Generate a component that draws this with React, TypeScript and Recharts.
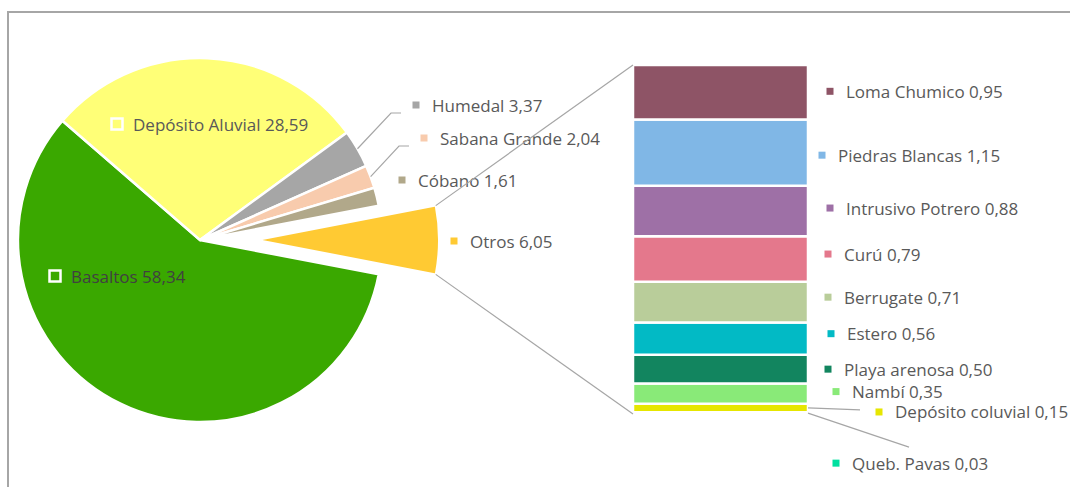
import React from 'react';
import { PieChart, Pie, Cell, BarChart, Bar, XAxis, YAxis, LabelList } from 'recharts';

// ---------- data ----------
const PIE_NAMES = ['Otros', 'Basaltos', 'Depósito Aluvial', 'Humedal', 'Sabana Grande', 'Cóbano'];
const PIE_VALUES = [6.05, 58.34, 28.59, 3.37, 2.04, 1.61];
const PIE_COLORS = ['#ffca33', '#3aa800', '#ffff77', '#a6a6a6', '#f8cbad', '#b1a88a'];

const BAR_NAMES = [
  'Loma Chumico', 'Piedras Blancas', 'Intrusivo Potrero', 'Curú', 'Berrugate',
  'Estero', 'Playa arenosa', 'Nambí', 'Depósito coluvial', 'Queb. Pavas',
];
const BAR_VALUES = [0.95, 1.15, 0.88, 0.79, 0.71, 0.56, 0.5, 0.35, 0.15, 0.03];
const BAR_COLORS = [
  '#8e5466', '#80b7e6', '#9e70a6', '#e4788c', '#b9cd9a',
  '#02bac5', '#12855f', '#89ea78', '#e6e600', '#00e0a0',
];

// ---------- layout / style ----------
const W = 1070;
const H = 487;
const FONT = '"Open Sans", Lato, sans-serif';
const FONT_SIZE = 17;
const TEXT = '#595959';
const LINE = '#a6a6a6';

const PIE_CX = 200;
const PIE_CY = 240;
const PIE_R = 182;
const EXPLODE = 57;

const BAR_MARGIN = { top: 65, bottom: 73, left: 633, right: 262 };

// label marker placement relative to pie center (Excel's manual label layout)
const PIE_LABEL_POS = [
  { dx: 254, dy: 1, inside: false, leader: false },
  { dx: -145, dy: 36, inside: true, leader: false },
  { dx: -83, dy: -116, inside: true, leader: false },
  { dx: 216, dy: -135, inside: false, leader: true },
  { dx: 224, dy: -102, inside: false, leader: true },
  { dx: 202, dy: -60, inside: false, leader: false },
];

// label marker placement relative to right edge / middle of each bar segment
const BAR_LABEL_POS = [
  { dx: 22, dy: -1 },
  { dx: 14, dy: 2.5 },
  { dx: 22, dy: -3 },
  { dx: 20, dy: -5 },
  { dx: 20, dy: -5 },
  { dx: 23, dy: -5 },
  { dx: 20, dy: 0 },
  { dx: 28, dy: -2 },
  { dx: 71, dy: 4, leader: { dx: -19, dy: -2 } },
  { dx: 28, dy: 50, leader: { dx: 73, dy: -16 } },
];

const fmt = (v: number) => v.toFixed(2).replace('.', ',');
const sum = (a: number[]) => a.reduce((s, v) => s + v, 0);
const RAD = Math.PI / 180;

const pieTotal = sum(PIE_VALUES);
const START_ANGLE = (PIE_VALUES[0] / pieTotal) * 180;
const pieData = PIE_NAMES.map((name, i) => ({ name, value: PIE_VALUES[i] }));

const barTotal = sum(BAR_VALUES);
const barRow: Record<string, any> = { name: 'Otros' };
BAR_NAMES.forEach((n, i) => {
  barRow['s' + i] = BAR_VALUES[i];
});
const barData = [barRow];

// exploded "Otros" slice corners (for connector lines)
const otrosMid = 0;
const otrosCx = PIE_CX + EXPLODE * Math.cos(otrosMid * RAD);
const otrosCy = PIE_CY - EXPLODE * Math.sin(otrosMid * RAD);
const otrosTop = {
  x: otrosCx + PIE_R * Math.cos(START_ANGLE * RAD),
  y: otrosCy - PIE_R * Math.sin(START_ANGLE * RAD),
};
const otrosBottom = {
  x: otrosCx + PIE_R * Math.cos(-START_ANGLE * RAD),
  y: otrosCy - PIE_R * Math.sin(-START_ANGLE * RAD),
};

const renderPieLabel = (p: any) => {
  const i = p.index;
  const pos = PIE_LABEL_POS[i];
  const cx = Number(p.cx);
  const cy = Number(p.cy);
  const mx = cx + pos.dx;
  const my = cy + pos.dy;
  const color = PIE_COLORS[i];
  const mid = p.midAngle;
  const r = Number(p.outerRadius);
  return (
    <g key={'pl' + i}>
      {pos.leader && (
        <polyline
          points={`${cx + r * Math.cos(mid * RAD)},${cy - r * Math.sin(mid * RAD)} ${mx - 25},${my + 8} ${mx - 15},${my + 8}`}
          fill="none"
          stroke={LINE}
          strokeWidth={1.2}
        />
      )}
      {pos.inside ? (
        <rect x={mx - 5.5} y={my - 5.5} width={11} height={11} fill={color} stroke="#fff" strokeWidth={2.5} />
      ) : (
        <rect x={mx - 3.5} y={my - 3.5} width={7} height={7} fill={color} />
      )}
      <text
        x={mx + 16}
        y={my}
        dominantBaseline="central"
        fontFamily={FONT}
        fontSize={FONT_SIZE}
        fill={i === 1 ? '#404040' : TEXT}
      >
        {`${PIE_NAMES[i]} ${fmt(PIE_VALUES[i])}`}
      </text>
    </g>
  );
};

const makeBarLabel = (i: number) => (props: any) => {
  const vb = props.viewBox && props.viewBox.width != null ? props.viewBox : props;
  const x = Number(vb.x);
  const y = Number(vb.y);
  const w = Number(vb.width);
  const h = Number(vb.height);
  const pos = BAR_LABEL_POS[i];
  const right = x + w;
  const midY = y + h / 2;
  const mx = right + pos.dx;
  const my = midY + pos.dy;
  return (
    <g>
      {i === 0 && (
        <line x1={otrosTop.x} y1={otrosTop.y} x2={x} y2={y} stroke={LINE} strokeWidth={1.2} />
      )}
      {i === BAR_NAMES.length - 1 && (
        <line x1={otrosBottom.x} y1={otrosBottom.y} x2={x} y2={y + h} stroke={LINE} strokeWidth={1.2} />
      )}
      {pos.leader && (
        <line
          x1={right}
          y1={midY}
          x2={mx + pos.leader.dx}
          y2={my + pos.leader.dy}
          stroke={LINE}
          strokeWidth={1.2}
        />
      )}
      <rect x={mx - 3.5} y={my - 3.5} width={7} height={7} fill={BAR_COLORS[i]} />
      <text x={mx + 16} y={my} dominantBaseline="central" fontFamily={FONT} fontSize={FONT_SIZE} fill={TEXT}>
        {`${BAR_NAMES[i]} ${fmt(BAR_VALUES[i])}`}
      </text>
    </g>
  );
};

export default function App() {
  const order = BAR_NAMES.map((_, i) => BAR_NAMES.length - 1 - i); // bottom -> top
  return (
    <div
      style={{
        position: 'absolute',
        left: 0,
        top: 0,
        width: W,
        height: H,
        overflow: 'hidden',
        background: '#fff',
        fontFamily: FONT,
      }}
    >
      <div
        style={{
          position: 'absolute',
          left: 7,
          top: 11,
          width: 1200,
          height: 600,
          border: `2px solid ${LINE}`,
          boxSizing: 'border-box',
        }}
      />
      <div style={{ position: 'absolute', left: 0, top: 0 }}>
        <PieChart width={W} height={H} margin={{ top: 0, right: 0, bottom: 0, left: 0 }}>
          <Pie
            data={pieData}
            dataKey="value"
            nameKey="name"
            cx={PIE_CX}
            cy={PIE_CY}
            outerRadius={PIE_R}
            startAngle={START_ANGLE}
            endAngle={START_ANGLE - 360}
            isAnimationActive={false}
            label={renderPieLabel}
            labelLine={false}
          >
            {pieData.map((d, i) => (
              <Cell
                key={d.name}
                fill={i === 0 ? 'transparent' : PIE_COLORS[i]}
                stroke={i === 0 ? 'none' : '#fff'}
                strokeWidth={2.5}
              />
            ))}
          </Pie>
          <Pie
            data={pieData}
            dataKey="value"
            nameKey="name"
            cx={otrosCx}
            cy={otrosCy}
            outerRadius={PIE_R}
            startAngle={START_ANGLE}
            endAngle={START_ANGLE - 360}
            isAnimationActive={false}
            labelLine={false}
          >
            {pieData.map((d, i) => (
              <Cell
                key={d.name}
                fill={i === 0 ? PIE_COLORS[0] : 'transparent'}
                stroke={i === 0 ? '#fff' : 'none'}
                strokeWidth={2}
              />
            ))}
          </Pie>
        </PieChart>
      </div>
      <div style={{ position: 'absolute', left: 0, top: 0 }}>
        <BarChart width={W} height={H} data={barData} margin={BAR_MARGIN} barCategoryGap={0}>
          <XAxis dataKey="name" type="category" hide />
          <YAxis type="number" domain={[0, barTotal]} hide />
          {order.map((i) => (
            <Bar
              key={BAR_NAMES[i]}
              dataKey={'s' + i}
              stackId="a"
              fill={BAR_COLORS[i]}
              stroke="#fff"
              strokeWidth={2.5}
              isAnimationActive={false}
            >
              <LabelList dataKey={'s' + i} content={makeBarLabel(i)} />
            </Bar>
          ))}
        </BarChart>
      </div>
    </div>
  );
}
